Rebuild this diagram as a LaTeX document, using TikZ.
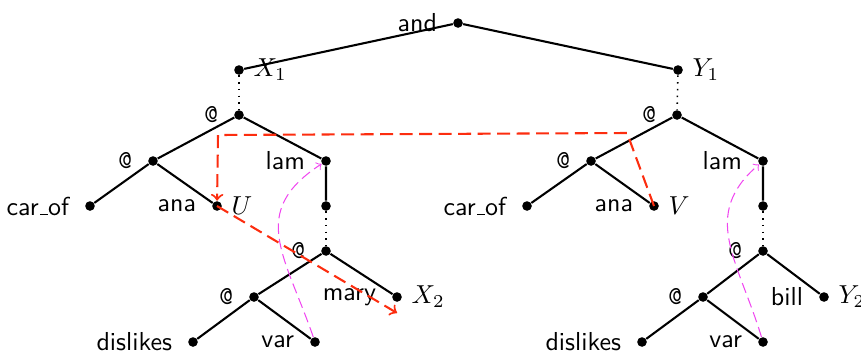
\documentclass[tikz,border=0pt]{standalone}
\usepackage{xcolor}
\usepackage{amsmath}
\usepackage{tikz}

\definecolor{rojo}{RGB}{252,45,15}
\definecolor{rosa}{RGB}{240,70,240}
\newcommand{\guion}{\leavevmode\kern.06em\vbox{\hrule width.3em height.5pt}}

\begin{document}
\begin{tikzpicture}[x=0.385pt, y=-0.385pt,
  punto/.style={circle, fill=black, inner sep=0pt, minimum size=3.7pt},
  izq/.style={label={[font=\sffamily, label distance=2.5pt]left:#1}},
  arr/.style={label={[font=\ttfamily, label distance=2.5pt]left:@}},
  der/.style={label={[label distance=0pt]right:#1}},
  rama/.style={thick},
  salto/.style={dotted, semithick},
  flecha/.style={rojo, thick, dash pattern=on 5pt off 2.5pt, ->},
  regreso/.style={rosa, dash pattern=on 4pt off 2pt, ->}]

\useasboundingbox (0,0) rectangle (861,354);

% Raiz
\node[punto, izq=and] (and) at (458,23) {};
\node[punto, der=$X_1$] (x1) at (239,70) {};
\node[punto, der=$Y_1$] (y1) at (678,70) {};

% Arbol izquierdo
\node[punto, arr] (la1) at (239,115) {};
\node[punto, arr] (la2) at (153,161) {};
\node[punto, izq=lam] (llam) at (326,161) {};
\node[punto, izq=car\guion of] (lcar) at (90,206) {};
\node[punto, izq=ana, der=$U$] (lana) at (217,206) {};
\node[punto] (lcuerpo) at (326,206) {};
\node[punto, arr] (la3) at (326,251) {};
\node[punto, arr] (la4) at (254,297) {};
\node[punto, izq=mary, der=$X_2$] (lmary) at (397,297) {};
\node[punto, izq=dislikes] (ldis) at (193,342) {};
\node[punto, izq=var] (lvar) at (315,342) {};

% Arbol derecho
\node[punto, arr] (ra1) at (677,115) {};
\node[punto, arr] (ra2) at (591,161) {};
\node[punto, izq=lam] (rlam) at (763,161) {};
\node[punto, izq=car\guion of] (rcar) at (527,206) {};
\node[punto, izq=ana, der=$V$] (rana) at (654,206) {};
\node[punto] (rcuerpo) at (763,206) {};
\node[punto, arr] (ra3) at (763,251) {};
\node[punto, arr] (ra4) at (703,297) {};
\node[punto, izq=bill, der=$Y_2$] (rbill) at (824,297) {};
\node[punto, izq=dislikes] (rdis) at (642,342) {};
\node[punto, izq=var] (rvar) at (763,342) {};

% Ramas
\draw[rama] (x1) -- (and) -- (y1);
\draw[salto] (x1) -- (la1);
\draw[salto] (y1) -- (ra1);

\draw[rama] (lcar) -- (la2) -- (lana);
\draw[rama] (la2) -- (la1) -- (llam) -- (lcuerpo);
\draw[salto] (lcuerpo) -- (la3);
\draw[rama] (la4) -- (la3) -- (lmary);
\draw[rama] (ldis) -- (la4) -- (lvar);

\draw[rama] (rcar) -- (ra2) -- (rana);
\draw[rama] (ra2) -- (ra1) -- (rlam) -- (rcuerpo);
\draw[salto] (rcuerpo) -- (ra3);
\draw[rama] (ra4) -- (ra3) -- (rbill);
\draw[rama] (rdis) -- (ra4) -- (rvar);

% Flechas rojas
\coordinate (giroR) at (627,133);
\coordinate (giroL) at (218,135);
\coordinate (finX) at (397,313);
\draw[flecha] (rana.center) -- (giroR) -- (giroL) -- (lana);
\draw[flecha] (lana.center) -- (finX);

% Flechas rosas
\draw[regreso] (lvar) .. controls (285,255) and (248,212) .. (llam);
\draw[regreso] (rvar) .. controls (738,260) and (700,215) .. (rlam);

\end{tikzpicture}
\end{document}
